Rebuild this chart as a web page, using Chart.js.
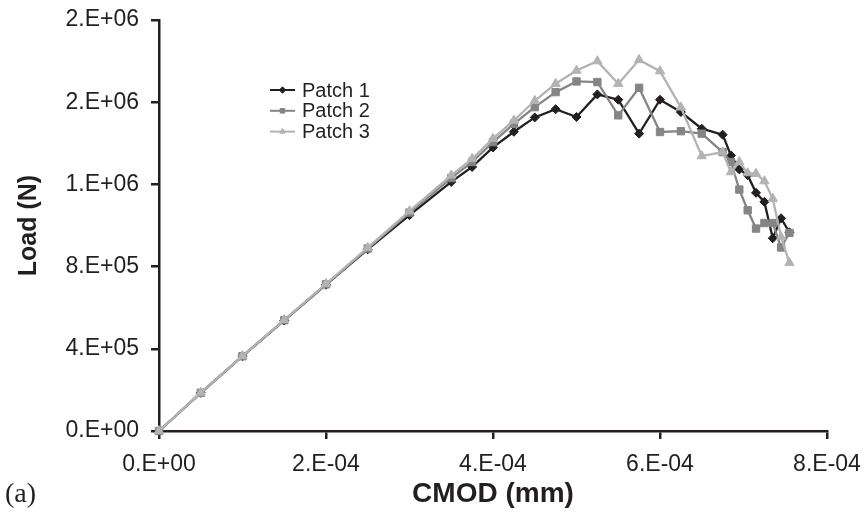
<!DOCTYPE html>
<html>
<head>
<meta charset="utf-8">
<script src="https://cdn.jsdelivr.net/npm/chart.js"></script>
<style>
  html, body { margin: 0; padding: 0; background: #fff; }
  #wrap { width: 868px; height: 513px; }
</style>
</head>
<body>
<div id="wrap"><canvas id="chart" width="868" height="513"></canvas></div>
<script>
// CMOD values (mm), shared by the three patches
const cmod = [0, 0.5e-4, 1.0e-4, 1.5e-4, 2.0e-4, 2.5e-4, 3.0e-4, 3.5e-4, 3.75e-4, 4.0e-4,
              4.25e-4, 4.5e-4, 4.75e-4, 5.0e-4, 5.25e-4, 5.5e-4, 5.75e-4, 6.0e-4, 6.25e-4, 6.5e-4,
              6.75e-4, 6.85e-4, 6.95e-4, 7.05e-4, 7.15e-4, 7.25e-4, 7.35e-4, 7.45e-4, 7.55e-4];

// Load (N)
const patch1 = [0, 186000, 364000, 538000, 712000, 884000, 1050000, 1212000, 1285000, 1380000,
                1456000, 1526000, 1566000, 1528000, 1638000, 1612000, 1447000, 1612000, 1552000, 1471000,
                1442000, 1341000, 1273000, 1245000, 1159000, 1115000, 938000, 1035000, 967000];
const patch2 = [0, 186000, 364000, 539000, 714000, 888000, 1063000, 1231000, 1309000, 1406000,
                1495000, 1576000, 1649000, 1701000, 1698000, 1536000, 1670000, 1455000, 1459000, 1447000,
                1357000, 1309000, 1175000, 1074000, 985000, 1012000, 1012000, 893000, 964000];
const patch3 = [0, 187000, 365000, 541000, 716000, 892000, 1070000, 1244000, 1325000, 1423000,
                1511000, 1607000, 1690000, 1754000, 1800000, 1690000, 1806000, 1751000, 1575000, 1338000,
                1357000, 1260000, 1309000, 1255000, 1252000, 1216000, 1131000, 944000, 818000];

const seriesNames = ['Patch 1', 'Patch 2', 'Patch 3'];

// axis ticks as printed on the figure (Excel "0.E+00" format)
const xTickValues = [0, 2e-4, 4e-4, 6e-4, 8e-4];
const xTickLabels = ['0.E+00', '2.E-04', '4.E-04', '6.E-04', '8.E-04'];
const yTickValues = [0, 4e5, 8e5, 1.2e6, 1.6e6, 2.0e6];
const yTickLabels = ['0.E+00', '4.E+05', '8.E+05', '1.E+06', '2.E+06', '2.E+06'];

const ink = '#231f20';
const sans = '"Liberation Sans", Arial, Helvetica, sans-serif';

function toPoints(ys) {
    return cmod.map((x, i) => ({ x: x, y: ys[i] }));
}

// Legend drawn inside the plot, like the original
const innerLegend = {
    id: 'innerLegend',
    afterDraw(chart) {
        const ctx = chart.ctx;
        ctx.save();
        chart.data.datasets.forEach((ds, i) => {
            const y = 90 + i * 20.8;
            ctx.strokeStyle = ds.borderColor;
            ctx.lineWidth = 2;
            ctx.beginPath();
            ctx.moveTo(270, y);
            ctx.lineTo(295, y);
            ctx.stroke();
            ctx.fillStyle = ds.borderColor;
            ctx.lineWidth = 1;
            Chart.helpers.drawPoint(ctx, { pointStyle: ds.pointStyle, radius: 3.2, borderWidth: 1, rotation: 0 }, 282.5, y);
            ctx.fillStyle = ink;
            ctx.font = '20px ' + sans;
            ctx.textBaseline = 'middle';
            ctx.textAlign = 'left';
            ctx.fillText(ds.label, 302, y + 1);
        });
        // panel tag
        ctx.fillStyle = ink;
        ctx.font = '28px "Liberation Serif", "Times New Roman", serif';
        ctx.textBaseline = 'middle';
        ctx.fillText('(a)', 5, 495);
        ctx.restore();
    }
};

const ctx = document.getElementById('chart').getContext('2d');
new Chart(ctx, {
    type: 'line',
    data: {
        datasets: [{
            label: seriesNames[0],
            data: toPoints(patch1),
            borderColor: ink,
            backgroundColor: ink,
            pointStyle: 'rectRot',
            pointRadius: 4.5,
            order: 3
        }, {
            label: seriesNames[1],
            data: toPoints(patch2),
            borderColor: '#858585',
            backgroundColor: '#858585',
            pointStyle: 'rect',
            pointRadius: 5.2,
            order: 2
        }, {
            label: seriesNames[2],
            data: toPoints(patch3),
            borderColor: '#b3b3b3',
            backgroundColor: '#b3b3b3',
            pointStyle: 'triangle',
            pointRadius: 5.4,
            order: 1
        }]
    },
    options: {
        responsive: false,
        animation: false,
        clip: false,
        elements: {
            line: { borderWidth: 2.3, tension: 0 },
            point: { borderWidth: 1, hoverRadius: 5 }
        },
        layout: { padding: { top: 20, right: 41, bottom: 0, left: 0 } },
        plugins: {
            legend: { display: false },
            tooltip: { enabled: false }
        },
        scales: {
            x: {
                type: 'linear',
                min: 0,
                max: 8e-4,
                afterBuildTicks: scale => { scale.ticks = xTickValues.map(v => ({ value: v })); },
                afterFit: scale => {
                    scale.height = 82;
                    scale.paddingLeft = 0;
                    scale.paddingRight = 0;
                },
                ticks: {
                    callback: (v, i) => xTickLabels[i],
                    font: { family: sans, size: 23 },
                    color: ink,
                    padding: 12,
                    maxRotation: 0,
                    autoSkip: false
                },
                grid: { drawOnChartArea: false, drawTicks: true, tickLength: 8, color: ink, lineWidth: 2.5 },
                border: { color: ink, width: 2.5 },
                title: {
                    display: true,
                    text: 'CMOD (mm)',
                    font: { family: sans, size: 28, weight: 'bold' },
                    color: ink,
                    padding: { top: 0, bottom: 2 }
                }
            },
            y: {
                type: 'linear',
                min: 0,
                max: 2e6,
                afterBuildTicks: scale => { scale.ticks = yTickValues.map(v => ({ value: v })); },
                afterFit: scale => {
                    scale.width = 159;
                    scale.paddingTop = 0;
                    scale.paddingBottom = 0;
                },
                ticks: {
                    callback: (v, i) => yTickLabels[i],
                    font: { family: sans, size: 23 },
                    color: ink,
                    padding: 12,
                    autoSkip: false
                },
                grid: { drawOnChartArea: false, drawTicks: true, tickLength: 8, color: ink, lineWidth: 2.5 },
                border: { color: ink, width: 2.5 },
                title: {
                    display: true,
                    text: 'Load (N)',
                    font: { family: sans, size: 25, weight: 'bold' },
                    color: ink,
                    padding: { top: 14, bottom: 0 }
                }
            }
        }
    },
    plugins: [innerLegend]
});
</script>
</body>
</html>
